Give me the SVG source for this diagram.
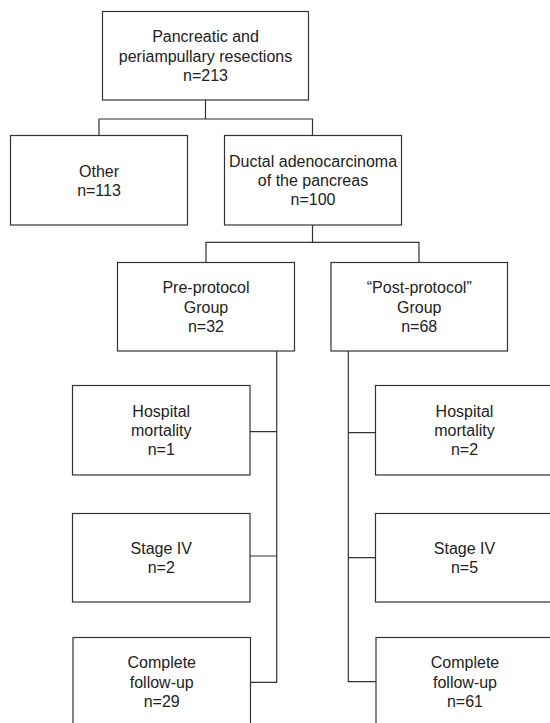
<svg xmlns="http://www.w3.org/2000/svg" width="550" height="723" viewBox="0 0 550 723">
<style>
.box{fill:#fff;stroke:#333;stroke-width:1.2}
.t{font-family:"Liberation Sans",Arial,Helvetica,sans-serif;font-size:16px;fill:#222;text-anchor:middle}
.c{fill:none;stroke:#333;stroke-width:1.2}
</style>
<rect width="550" height="723" fill="#fff"/>
<g id="connectors">
<path class="c" d="M205.5 100 V119 M99 135.5 V119 H312.5 V135.5"/>
<path class="c" d="M312.5 225 V242.3 M206 262.5 V242.3 H419 V262.5"/>
<path class="c" d="M276.7 351 V682.3 H250.7 M250 431.7 H276.7 M250 556 H276.7"/>
<path class="c" d="M348.3 351 V681.7 H376 M348.3 432.7 H375.5 M348.3 557.7 H375.5"/>
</g>
<g id="resections">
<rect class="box" x="102.5" y="11.5" width="206" height="88.5"/>
<text class="t" x="205.5" y="42.3">Pancreatic and</text>
<text class="t" x="205.5" y="61.5">periampullary resections</text>
<text class="t" x="205.5" y="80.7">n=213</text>
</g>
<g id="other">
<rect class="box" x="10.5" y="135.5" width="177" height="89.5"/>
<text class="t" x="99" y="176.5">Other</text>
<text class="t" x="99" y="195.7">n=113</text>
</g>
<g id="ductal">
<rect class="box" x="224.5" y="135.5" width="177" height="89.5"/>
<text class="t" x="313" y="166.8">Ductal adenocarcinoma</text>
<text class="t" x="313" y="186">of the pancreas</text>
<text class="t" x="313" y="205.2">n=100</text>
</g>
<g id="pre">
<rect class="box" x="117.5" y="262.5" width="177" height="88.5"/>
<text class="t" x="206" y="293.3">Pre-protocol</text>
<text class="t" x="206" y="312.5">Group</text>
<text class="t" x="206" y="331.7">n=32</text>
</g>
<g id="post">
<rect class="box" x="331" y="262.5" width="176.5" height="88.5"/>
<text class="t" x="419.25" y="293.3">“Post-protocol”</text>
<text class="t" x="419.25" y="312.5">Group</text>
<text class="t" x="419.25" y="331.7">n=68</text>
</g>
<g id="hosp-pre">
<rect class="box" x="72.5" y="385.5" width="177.5" height="89.5"/>
<text class="t" x="161.25" y="416.8">Hospital</text>
<text class="t" x="161.25" y="436">mortality</text>
<text class="t" x="161.25" y="455.2">n=1</text>
</g>
<g id="hosp-post">
<rect class="box" x="375.5" y="385.5" width="178" height="89.5"/>
<text class="t" x="464.5" y="416.8">Hospital</text>
<text class="t" x="464.5" y="436">mortality</text>
<text class="t" x="464.5" y="455.2">n=2</text>
</g>
<g id="stage-pre">
<rect class="box" x="72.5" y="513.5" width="177.5" height="88.5"/>
<text class="t" x="161.25" y="554">Stage IV</text>
<text class="t" x="161.25" y="573.2">n=2</text>
</g>
<g id="stage-post">
<rect class="box" x="375.5" y="513.5" width="178" height="88.5"/>
<text class="t" x="464.5" y="554">Stage IV</text>
<text class="t" x="464.5" y="573.2">n=5</text>
</g>
<g id="complete-pre">
<rect class="box" x="73" y="637.5" width="177.5" height="89"/>
<text class="t" x="161.75" y="668.3">Complete</text>
<text class="t" x="161.75" y="687.5">follow-up</text>
<text class="t" x="161.75" y="706.7">n=29</text>
</g>
<g id="complete-post">
<rect class="box" x="376" y="637.5" width="178" height="89"/>
<text class="t" x="465" y="668.3">Complete</text>
<text class="t" x="465" y="687.5">follow-up</text>
<text class="t" x="465" y="706.7">n=61</text>
</g>
</svg>
